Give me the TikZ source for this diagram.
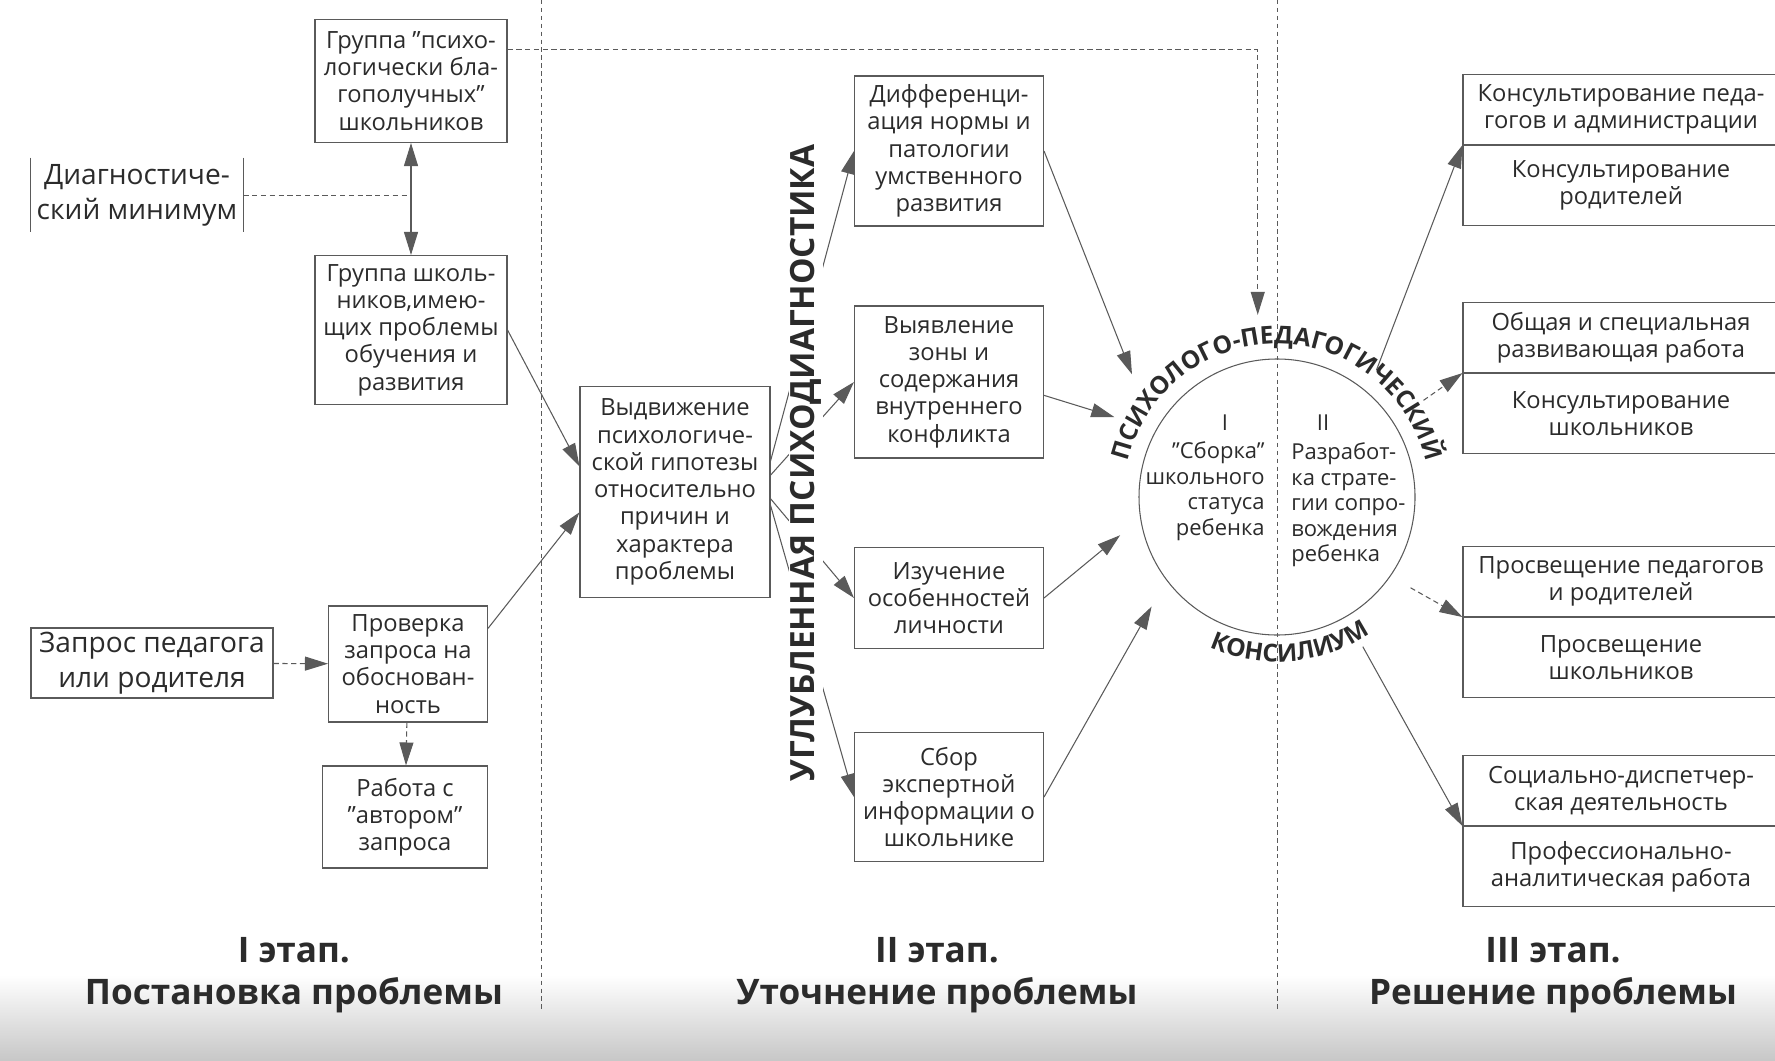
\documentclass[tikz,border=0pt]{standalone}
\usepackage{fontspec}
\setmainfont{Open Sans}
\usepackage{xcolor}
\usetikzlibrary{shapes,arrows,arrows.meta,positioning,calc,decorations.text}

\definecolor{inkgray}{HTML}{2B2B2B}
\definecolor{linegray}{HTML}{5A5A5A}

\newcommand{\boxfont}{\fontsize{13.5}{15.5}\selectfont}
\newcommand{\innerfont}{\fontsize{12.5}{14.5}\selectfont}
\newcommand{\bigfont}{\fontsize{16}{20}\selectfont}
\newcommand{\ringfont}{\fontsize{14}{16}\selectfont\bfseries}
\newcommand{\deepfont}{\fontsize{19}{21}\selectfont\bfseries}
\newcommand{\stagefont}{\fontsize{20}{24}\selectfont\bfseries}

\begin{document}
\begin{tikzpicture}[x=0.2mm, y=0.2mm,
    >={Triangle[length=4.6mm, width=2.8mm]},
    box/.style={rectangle, draw=linegray, line width=0.6pt, text=inkgray, align=center, font=\boxfont, inner sep=1pt},
    cell/.style={box, minimum width=63.2mm, anchor=north},
    plain/.style={text=inkgray, font=\boxfont, inner sep=0pt},
    arr/.style={->, draw=linegray, line width=0.6pt},
    dasharrow/.style={arr, dash pattern=on 3pt off 2pt},
    sep/.style={draw=linegray, line width=0.5pt, dash pattern=on 2.5pt off 2pt}]
    \useasboundingbox (0,0) rectangle (1775,-1061);
    \fill[top color=white, bottom color=black!22] (0,-975) rectangle (1775,-1061);

    % stage separators
    \draw[sep] (541,0) -- (541,-1010);
    \draw[sep] (1277,0) -- (1277,-1010);

    % I stage
    \node (diag) [plain, font=\bigfont, align=center, minimum width=42.4mm, minimum height=14.8mm] at (137,-195) {Диагностиче-\\ский минимум};
    \draw[linegray, line width=0.6pt] (diag.north west) -- (diag.south west) (diag.north east) -- (diag.south east);
    \node (calm) [box, minimum width=38.4mm, minimum height=24.6mm] at (411,-81) {Группа "психо-\\логически бла-\\гополучных"\\школьников};
    \node (trouble) [box, minimum width=38.4mm, minimum height=29.8mm] at (411,-330) {Группа школь-\\ников,имею-\\щих проблемы\\обучения и\\развития};
    \node (request) [box, font=\bigfont, minimum width=48.4mm, minimum height=14mm] at (152,-663) {Запрос педагога\\или родителя};
    \node (check) [box, minimum width=31.8mm, minimum height=23.2mm] at (408,-664) {Проверка\\запроса на\\обоснован-\\ность};
    \node (author) [box, minimum width=33mm, minimum height=20.4mm] at (405,-817) {Работа с\\"автором"\\запроса};

    % II stage
    \node (hypo) [box, minimum width=38mm, minimum height=42.2mm] at (675,-492) {Выдвижение\\психологиче-\\ской гипотезы\\относительно\\причин и\\характера\\проблемы};
    \node (norm) [box, minimum width=37.8mm, minimum height=30mm] at (949,-151) {Дифференци-\\ация нормы и\\патологии\\умственного\\развития};
    \node (conflict) [box, minimum width=37.8mm, minimum height=30.4mm] at (949,-382) {Выявление\\зоны и\\содержания\\внутреннего\\конфликта};
    \node (person) [box, minimum width=37.8mm, minimum height=20.2mm] at (949,-598) {Изучение\\особенностей\\личности};
    \node (expert) [box, minimum width=37.8mm, minimum height=25.8mm] at (949,-797) {Сбор\\экспертной\\информации о\\школьнике};

    % council
    \node (council) [circle, draw=linegray, line width=0.6pt, minimum size=55.2mm, inner sep=0pt] at (1277,-497) {};
    \node (romI) [plain, font=\innerfont] at (1225,-423) {I};
    \node (romII) [plain, font=\innerfont] at (1323,-423) {II};
    \node (assembly) [plain, font=\innerfont, align=right, anchor=east] at (1265,-491) {"Сборка"\\школьного\\статуса\\ребенка};
    \node (strategy) [plain, font=\innerfont, align=left, anchor=west] at (1291,-505) {Разработ-\\ка страте-\\гии сопро-\\вождения\\ребенка};
    \path[decorate, decoration={text along path, text align=center, text color=inkgray,
        text={|\ringfont|ПСИХОЛОГО-ПЕДАГОГИЧЕСКИЙ}}] (council.center) ++(175:153) arc (175:5:153);
    \path[decorate, decoration={text along path, text align=center, text color=inkgray,
        text={|\ringfont|КОНСИЛИУМ}}] (council.center) ++(-130:165) arc (-130:-40:165);

    % III stage
    \node (consA) [cell, minimum height=14mm] at (1621,-74) {Консультирование педа-\\гогов и администрации};
    \node (consB) [cell, minimum height=16mm, below=0pt of consA] {Консультирование\\родителей};
    \node (workA) [cell, minimum height=14mm] at (1621,-302) {Общая и специальная\\развивающая работа};
    \node (workB) [cell, minimum height=16mm, below=0pt of workA] {Консультирование\\школьников};
    \node (eduA) [cell, minimum height=14mm] at (1621,-546) {Просвещение педагогов\\и родителей};
    \node (eduB) [cell, minimum height=16mm, below=0pt of eduA] {Просвещение\\школьников};
    \node (socA) [cell, minimum height=14mm] at (1621,-755) {Социально-диспетчер-\\ская деятельность};
    \node (socB) [cell, minimum height=16mm, below=0pt of socA] {Профессионально-\\аналитическая работа};

    % stage titles
    \node (stageI) [plain, font=\stagefont, align=center] at (294,-975) {I этап.\\Постановка проблемы};
    \node (stageII) [plain, font=\stagefont, align=center] at (937,-975) {II этап.\\Уточнение проблемы};
    \node (stageIII) [plain, font=\stagefont, align=center] at (1553,-975) {III этап.\\Решение проблемы};

    % connectors
    \draw[arr, <->] (calm.south) -- (trouble.north);
    \draw[linegray, line width=0.5pt, dash pattern=on 3pt off 2pt] (diag.east) -- (diag.east -| calm.south);
    \draw[dasharrow] (request) -- (check);
    \draw[dasharrow] (check) -- (author);
    \draw[arr] (trouble.east) -- (hypo.165);
    \draw[arr] (check.24) -- (hypo.192);
    \draw[dasharrow, shorten >=9mm] (calm.18) -| (council.98);

    \draw[arr] (hypo.18) -- (norm.west);
    \draw[arr] (hypo.10) -- (conflict.west);
    \draw[arr] (hypo.-4) -- (person.west);
    \draw[arr] (hypo.-8) -- (expert.west);
    \node (deep) [rotate=90, fill=white, text=inkgray, font=\deepfont, inner sep=1pt] at (806,-463) {УГЛУБЛЕННАЯ ПСИХОДИАГНОСТИКА};

    \draw[arr, shorten >=12.4mm] (norm.east) -- (council.152);
    \draw[arr, shorten >=8.7mm] (conflict.-8) -- (council.151);
    \draw[arr, shorten >=5.2mm] (person.east) -- (council.-171);
    \draw[arr, shorten >=6mm] (expert.east) -- (council.-143);

    \draw[arr, shorten <=4.8mm] (council.49) -- (consA.south west);
    \draw[dasharrow, shorten <=7.4mm] (council.33) -- (workA.south west);
    \draw[dasharrow, shorten <=4.6mm] (council.-35) -- (eduA.south west);
    \draw[arr, shorten <=6.8mm] (council.-60) -- (socA.south west);
\end{tikzpicture}
\end{document}
